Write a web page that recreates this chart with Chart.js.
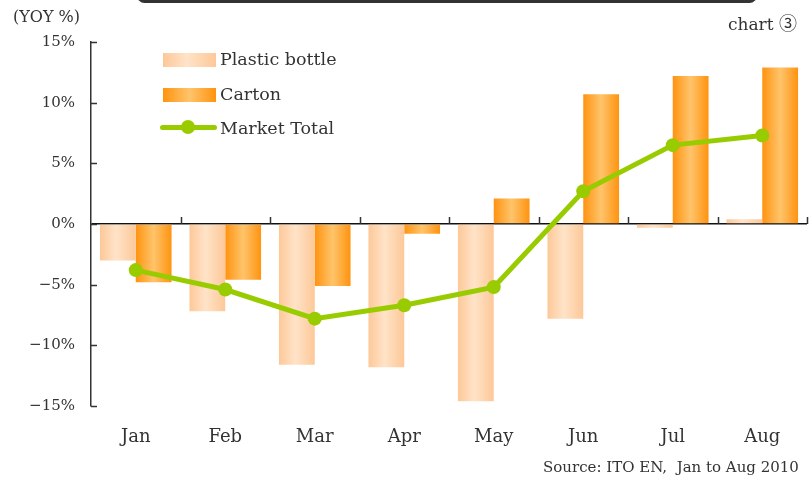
<!DOCTYPE html>
<html>
<head>
<meta charset="utf-8">
<script src="https://cdn.jsdelivr.net/npm/chart.js@4/dist/chart.umd.min.js"></script>
<style>
    html, body { margin: 0; padding: 0; background: #fff; overflow: hidden; }
    #wrap { position: relative; width: 809px; height: 480px; overflow: hidden; font-family: "DejaVu Serif", serif; color: #333; }
    #grafica { position: absolute; left: 0; top: 0; }
    .txt { position: absolute; white-space: nowrap; line-height: 1; }
    .circ { font-family: "Noto Sans CJK JP", sans-serif; font-size: 18px; }
    #barra { position: absolute; left: 137px; top: -12px; width: 620px; height: 15px; background: #333; border-radius: 8px; }
    .caja { position: absolute; left: 163px; width: 53px; height: 14px; }
    #caja-pet { top: 53px; background: linear-gradient(to right, #fdc898 0%, #ffe3c8 45%, #fdc898 100%); }
    #caja-carton { top: 88px; background: linear-gradient(to right, #ff930f 0%, #ffc46b 50%, #ff930f 100%); }
    #linea-total { position: absolute; left: 160px; top: 125px; width: 57px; height: 5px; border-radius: 3px; background: #99cc00; }
    #punto-total { position: absolute; left: 181px; top: 120px; width: 14px; height: 14px; border-radius: 50%; background: #99cc00; }
    .leyenda { font-size: 17.5px; left: 220px; }
</style>
</head>
<body>
<div id="wrap">
    <canvas id="grafica" width="814" height="480"></canvas>
    <div id="barra"></div>
    <div class="txt" style="left:13px; top:9px; font-size:16px;">(YOY %)</div>
    <div class="txt" style="left:728px; top:13px; font-size:17px;">chart <span class="circ">③</span></div>
    <div class="txt" style="left:543px; top:460px; font-size:15px;">Source: ITO EN,&nbsp; Jan to Aug 2010</div>
    <div class="caja" id="caja-pet"></div>
    <div class="caja" id="caja-carton"></div>
    <div id="linea-total"></div>
    <div id="punto-total"></div>
    <div class="txt leyenda" style="top:51px;">Plastic bottle</div>
    <div class="txt leyenda" style="top:86px;">Carton</div>
    <div class="txt leyenda" style="top:120px;">Market Total</div>
</div>
<script>
const meses = ['Jan', 'Feb', 'Mar', 'Apr', 'May', 'Jun', 'Jul', 'Aug']
const petBotella = [-3.0, -7.2, -11.6, -11.8, -14.6, -7.8, -0.3, 0.4]
const carton = [-4.8, -4.6, -5.1, -0.8, 2.1, 10.7, 12.2, 12.9]
const mercadoTotal = [-3.8, -5.4, -7.8, -6.7, -5.2, 2.7, 6.5, 7.3]
const yTicks = [-15, -10, -5, 0, 5, 10, 15]

const graph = document.querySelector("#grafica")

const CAT_PCT = 0.8

// horizontal gradient across each bar, computed from the x scale
function degradado(colores) {
    return function (ctx) {
        const chart = ctx.chart
        const x = chart.scales.x
        if (!x || ctx.type !== 'data') return colores[0]
        const ancho = x.width / meses.length * CAT_PCT / 2
        const centro = x.getPixelForValue(ctx.dataIndex)
        const izq = ctx.datasetIndex === 0 ? centro - ancho : centro
        // scales not laid out yet on the first pass
        if (!isFinite(izq) || !isFinite(ancho) || ancho <= 0) return colores[0]
        const g = chart.ctx.createLinearGradient(izq, 0, izq + ancho, 0)
        g.addColorStop(0, colores[0])
        g.addColorStop(colores[2], colores[1])
        g.addColorStop(1, colores[0])
        return g
    }
}

// short inner ticks on the y axis and category ticks on the zero line
const marcas = {
    id: 'marcas',
    afterDraw(chart) {
        const c = chart.ctx
        const x = chart.scales.x
        const y = chart.scales.y
        const area = chart.chartArea
        c.save()
        c.strokeStyle = '#333'
        c.lineWidth = 1.5
        c.beginPath()
        yTicks.forEach(v => {
            const py = Math.round(y.getPixelForValue(v)) + 0.5
            c.moveTo(area.left, py)
            c.lineTo(area.left + 6, py)
        })
        const paso = x.width / meses.length
        const y0 = y.getPixelForValue(0)
        for (let i = 1; i <= meses.length; i++) {
            const px = Math.round(x.getPixelForValue(i) - paso / 2) + 0.5
            c.moveTo(px, y0)
            c.lineTo(px, y0 - 7)
        }
        c.stroke()
        c.restore()
    }
}

function graficar() {
    const data_grafico = {
        labels: meses,
        datasets: [{
            type: 'bar',
            label: 'Plastic bottle',
            data: petBotella,
            backgroundColor: degradado(['#fdc898', '#ffe3c8', 0.45]),
            order: 1
        }, {
            type: 'bar',
            label: 'Carton',
            data: carton,
            backgroundColor: degradado(['#ff930f', '#ffc46b', 0.5]),
            order: 1
        }, {
            type: 'line',
            label: 'Market Total',
            data: mercadoTotal,
            borderColor: '#99cc00',
            backgroundColor: '#99cc00',
            borderWidth: 5,
            pointRadius: 7,
            pointBorderWidth: 0,
            pointBackgroundColor: '#99cc00',
            tension: 0,
            order: 0
        }]
    }
    const config = {
        type: 'bar',
        data: data_grafico,
        options: {
            responsive: false,
            animation: false,
            layout: { padding: { top: 42, left: 0, right: 0, bottom: 0 } },
            datasets: {
                bar: { categoryPercentage: CAT_PCT, barPercentage: 1.0 }
            },
            plugins: {
                legend: { display: false },
                tooltip: { enabled: false }
            },
            scales: {
                x: {
                    grid: { display: false },
                    border: { display: false },
                    ticks: {
                        color: '#333',
                        padding: 13,
                        font: { family: 'DejaVu Serif', size: 18 }
                    },
                    afterFit(scale) { scale.height = 74 }
                },
                y: {
                    min: -15,
                    max: 15,
                    afterBuildTicks(scale) { scale.ticks = yTicks.map(v => ({ value: v })) },
                    grid: {
                        drawTicks: false,
                        lineWidth: 1.5,
                        color: ctx => (ctx.tick && ctx.tick.value === 0) ? '#111' : 'rgba(0,0,0,0)'
                    },
                    border: { display: true, color: '#333', width: 1.5 },
                    ticks: {
                        color: '#333',
                        padding: 16,
                        font: { family: 'DejaVu Serif', size: 15 },
                        callback: v => (v < 0 ? '\u2212' + Math.abs(v) : v) + '%'
                    },
                    afterFit(scale) { scale.width = 91 }
                }
            }
        },
        plugins: [marcas]
    }
    new Chart(graph, config)
}

graficar()
</script>
</body>
</html>
